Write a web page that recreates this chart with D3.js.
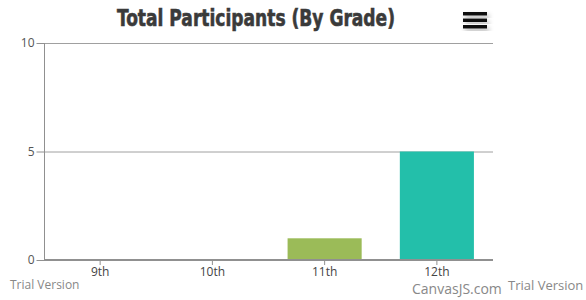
<!DOCTYPE html>
<html><head><meta charset="utf-8">
<script src="https://cdn.jsdelivr.net/npm/d3@7"></script>
<style>body{margin:0;background:#fff}svg{display:block}</style>
</head><body>
<svg id="c" width="586" height="300"></svg>
<script>
const categories = ["9th","10th","11th","12th"];
const values = [0,0,1,5];
const colors = ["#4F81BC","#C0504E","#9BBB58","#23BFAA"];
const yTicks = [0,5,10];
const titleText = "Total Participants (By Grade)";

const svg = d3.select("#c");
const m = {left:44, right:93, top:43, bottom:40};
const W = 586, H = 300;
const x = d3.scaleBand().domain(categories).range([m.left, W - m.right]).paddingInner(0.34).paddingOuter(0.17);
const y = d3.scaleLinear().domain([0,10]).range([H - m.bottom, m.top]);

// gridlines
svg.append("g").selectAll("line").data(yTicks.filter(t=>t>0)).join("line")
  .attr("x1", m.left).attr("x2", W - m.right)
  .attr("y1", d=>y(d)+0.5).attr("y2", d=>y(d)+0.5)
  .attr("stroke","#a0a0a0").attr("stroke-width",1);

// bars
svg.append("g").selectAll("rect").data(values).join("rect")
  .attr("x",(d,i)=>x(categories[i])).attr("width",x.bandwidth())
  .attr("y",d=>y(d)).attr("height",d=>y(0)-y(d))
  .attr("fill",(d,i)=>colors[i]);

// y axis
const ya = svg.append("g").attr("transform",`translate(${m.left+0.5},0)`)
  .call(d3.axisLeft(y).tickValues(yTicks).tickSize(8).tickPadding(2));
ya.select(".domain").attr("stroke","#909090").attr("d",`M0,${m.top}V${H-m.bottom}`);
ya.selectAll(".tick line").attr("stroke","#909090");
ya.selectAll(".tick text").attr("fill","#555").style("font-family","Open Sans, sans-serif").style("font-size","12px");

// x axis
const xa = svg.append("g").attr("transform",`translate(0,${H-m.bottom})`)
  .call(d3.axisBottom(x).tickSize(5).tickPadding(2));
xa.select(".domain").attr("stroke","#909090").attr("stroke-width",2).attr("d",`M${m.left},0H${W-m.right}`);
xa.selectAll(".tick line").attr("stroke","#909090");
xa.selectAll(".tick text").attr("fill","#444").style("font-family","Open Sans, sans-serif").style("font-size","12px");

// title
svg.append("text").attr("x",256).attr("y",26).attr("text-anchor","middle")
  .attr("textLength",278).attr("lengthAdjust","spacingAndGlyphs")
  .style("font-family","DejaVu Sans Condensed, sans-serif").style("font-weight","bold").style("font-size","23px")
  .attr("fill","#3a3a3a").attr("stroke","#3a3a3a").attr("stroke-width",0.6).text(titleText);

// menu icon
const menu = svg.append("g");
const defs = svg.append("defs");
const f = defs.append("filter").attr("id","sh").attr("x","-50%").attr("y","-50%").attr("width","200%").attr("height","200%");
f.append("feDropShadow").attr("dx",2).attr("dy",3).attr("stdDeviation",2.5).attr("flood-color","#000").attr("flood-opacity",0.35);
[0,1,2].forEach(i=>{
  menu.append("rect").attr("x",463).attr("y",12+i*6.5).attr("width",24).attr("height",3.5).attr("fill","#111").attr("filter","url(#sh)");
});

// watermarks
const wm = (t,xx,yy,s)=>svg.append("text").attr("x",xx).attr("y",yy).text(t)
  .style("font-family","Open Sans, sans-serif").style("font-size",s+"px").attr("fill","#888");
wm("Trial Version",10,289,12);
wm("CanvasJS.com",412,294,14);
wm("Trial Version",508,290,13);
</script>
</body></html>
